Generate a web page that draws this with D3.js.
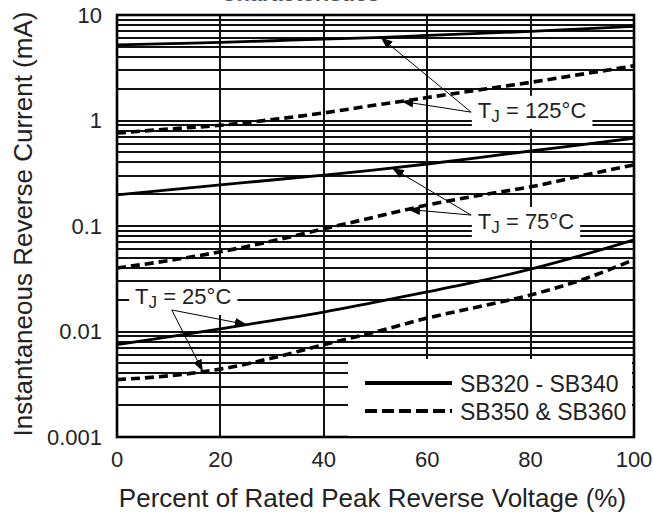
<!DOCTYPE html>
<html>
<head>
<meta charset="utf-8">
<script src="https://cdn.jsdelivr.net/npm/d3@7"></script>
<style>
  body { margin: 0; background: #fff; }
  svg { display: block; font-family: "Liberation Sans", Arial, sans-serif; }
  .grid { stroke: #111; stroke-width: 1.2; shape-rendering: crispEdges; }
  .frame { fill: none; stroke: #000; stroke-width: 2.6; }
  .tick { font-size: 22px; fill: #222; }
  .axis-title { font-size: 26px; fill: #222; }
  .curve { fill: none; stroke: #000; stroke-width: 2.8; }
  .curve-dash { stroke-width: 3.6; stroke-dasharray: 9 5; }
  .tj { font-size: 22px; fill: #222; }
  .leader { stroke: #000; stroke-width: 1; }
  .leg-text { font-size: 23px; fill: #222; }
</style>
</head>
<body>
<svg id="chart"></svg>
<script>
// percent of rated peak reverse voltage
const pct = [0, 10, 20, 30, 40, 50, 60, 70, 80, 90, 100];

// reverse current (mA)
const sb320_125 = [5.2, 5.35, 5.5, 5.7, 5.9, 6.1, 6.4, 6.7, 7.0, 7.4, 7.8];
const sb350_125 = [0.76, 0.83, 0.9, 1.02, 1.18, 1.4, 1.65, 1.95, 2.3, 2.75, 3.3];
const sb320_75  = [0.197, 0.22, 0.245, 0.273, 0.304, 0.34, 0.387, 0.445, 0.514, 0.59, 0.68];
const sb350_75  = [0.040, 0.047, 0.057, 0.072, 0.094, 0.122, 0.158, 0.195, 0.235, 0.30, 0.38];
const sb320_25  = [0.0075, 0.0089, 0.0106, 0.0127, 0.0153, 0.019, 0.0237, 0.030, 0.039, 0.053, 0.074];
const sb350_25  = [0.0035, 0.0038, 0.0044, 0.0056, 0.0075, 0.0099, 0.0134, 0.0172, 0.0222, 0.031, 0.048];

const xTicks = [0, 20, 40, 60, 80, 100];
const yTicks = [10, 1, 0.1, 0.01, 0.001];
const yTickLabels = ['10', '1', '0.1', '0.01', '0.001'];

const legendLabels = ['SB320 - SB340', 'SB350 & SB360'];

// temperature labels: text anchor, leader origin, and arrow targets (series + percent)
const tjLabels = [
  { temp: '125', tx: 69.8, tv: 1.06,   ox: 68.5, ov: 1.20,  targets: [['a', 51], ['b', 55]] },
  { temp: '75',  tx: 69.8, tv: 0.0937, ox: 68.5, ov: 0.127, targets: [['a', 53.2], ['b', 56.3]] },
  { temp: '25',  tx: 3.5,  tv: 0.01823, ox: 10.6, ov: 0.016, targets: [['a', 25.1], ['b', 16.6]] }
];
const seriesByTemp = {
  '125': { a: sb320_125, b: sb350_125 },
  '75':  { a: sb320_75,  b: sb350_75 },
  '25':  { a: sb320_25,  b: sb350_25 }
};

const totalW = 653, totalH = 519;
const mg = { top: 15, right: 19, bottom: 82, left: 117 };
const W = totalW - mg.left - mg.right;
const H = totalH - mg.top - mg.bottom;

const svg = d3.select('#chart').attr('width', totalW).attr('height', totalH);

// title sits mostly above the page edge, as in the source scan
svg.append('text').attr('x', 300).attr('y', 1).attr('text-anchor', 'middle')
  .style('font-size', '22px').style('font-weight', 'bold').attr('fill', '#555')
  .text('Characteristics');

const defs = svg.append('defs');
defs.append('marker').attr('id', 'arr')
  .attr('markerUnits', 'userSpaceOnUse')
  .attr('markerWidth', 13).attr('markerHeight', 10)
  .attr('refX', 12).attr('refY', 4.5).attr('orient', 'auto')
  .append('path').attr('d', 'M0,0 L12,4.5 L0,9 Z').attr('fill', '#000');

const g = svg.append('g').attr('transform', `translate(${mg.left},${mg.top})`);

const x = d3.scaleLinear().domain([0, 100]).range([0, W]);
const y = d3.scaleLog().domain([0.001, 10]).range([H, 0]);

// grid: every minor log step, plus 20% verticals
const minor = [];
[0.001, 0.01, 0.1, 1].forEach((dec) => {
  for (let k = 2; k <= 9; k++) minor.push(dec * k);
});
g.selectAll('.hgrid').data(minor.concat(yTicks)).enter().append('line')
  .attr('class', 'grid')
  .attr('x1', 0).attr('x2', W)
  .attr('y1', (d) => Math.round(y(d))).attr('y2', (d) => Math.round(y(d)));
g.selectAll('.vgrid').data(xTicks.slice(1, -1)).enter().append('line')
  .attr('class', 'grid')
  .attr('x1', (d) => Math.round(x(d))).attr('x2', (d) => Math.round(x(d)))
  .attr('y1', 0).attr('y2', H);

// curves
const line = d3.line()
  .x((d, i) => x(pct[i]))
  .y((d) => y(d))
  .curve(d3.curveMonotoneX);

[[sb320_125, false], [sb350_125, true], [sb320_75, false],
 [sb350_75, true], [sb320_25, false], [sb350_25, true]].forEach(([s, dashed]) => {
  g.append('path').datum(s).attr('d', line)
    .attr('class', dashed ? 'curve curve-dash' : 'curve');
});

// value on a series at a given percent (log-linear between read points)
function valueAt(series, p) {
  const i = Math.min(pct.length - 2, Math.floor(p / 10));
  const t = (p - pct[i]) / (pct[i + 1] - pct[i]);
  const a = Math.log10(series[i]), b = Math.log10(series[i + 1]);
  return Math.pow(10, a + (b - a) * t);
}

// temperature labels with white boxes and leader arrows
tjLabels.forEach((lb) => {
  const grp = g.append('g');
  const box = grp.append('rect').attr('fill', '#fff');
  const t = grp.append('text').attr('class', 'tj')
    .attr('x', x(lb.tx)).attr('y', y(lb.tv));
  t.append('tspan').text('T');
  t.append('tspan').attr('dy', 4).style('font-size', '17px').text('J');
  t.append('tspan').attr('dy', -4).text(` = ${lb.temp}\u00B0C`);
  const bb = t.node().getBBox();
  box.attr('x', bb.x - 6).attr('y', bb.y - 2)
    .attr('width', bb.width + 12).attr('height', bb.height + 5);

  lb.targets.forEach(([key, p]) => {
    const s = seriesByTemp[lb.temp][key];
    g.append('line').attr('class', 'leader')
      .attr('x1', x(lb.ox)).attr('y1', y(lb.ov))
      .attr('x2', x(p)).attr('y2', y(valueAt(s, p)))
      .attr('marker-end', 'url(#arr)');
  });
});

// legend
const leg = svg.append('g');
leg.append('rect').attr('x', 348).attr('y', 359).attr('width', 284).attr('height', 77)
  .attr('fill', '#fff');
legendLabels.forEach((lab, i) => {
  const ly = 383 + i * 28;
  leg.append('line').attr('x1', 365).attr('x2', 452).attr('y1', ly).attr('y2', ly)
    .attr('stroke', '#000').attr('stroke-width', 4)
    .attr('stroke-dasharray', i === 1 ? '12 5' : null);
  leg.append('text').attr('class', 'leg-text').attr('x', 460).attr('y', ly + 9).text(lab);
});

// frame
g.append('rect').attr('class', 'frame').attr('x', 0).attr('y', 0).attr('width', W).attr('height', H);

// tick labels
yTicks.forEach((v, i) => {
  g.append('text').attr('class', 'tick').attr('x', -15).attr('y', y(v)).attr('dy', '0.36em')
    .attr('text-anchor', 'end').text(yTickLabels[i]);
});
xTicks.forEach((v) => {
  g.append('text').attr('class', 'tick').attr('x', x(v)).attr('y', H + 30)
    .attr('text-anchor', 'middle').text(v);
});

// axis titles
svg.append('text').attr('class', 'axis-title').attr('x', mg.left + W / 2 - 3).attr('y', 507)
  .attr('text-anchor', 'middle').text('Percent of Rated Peak Reverse Voltage (%)');
svg.append('text').attr('class', 'axis-title')
  .attr('transform', 'translate(32,224) rotate(-90)')
  .attr('text-anchor', 'middle').text('Instantaneous Reverse Current (mA)');
</script>
</body>
</html>
